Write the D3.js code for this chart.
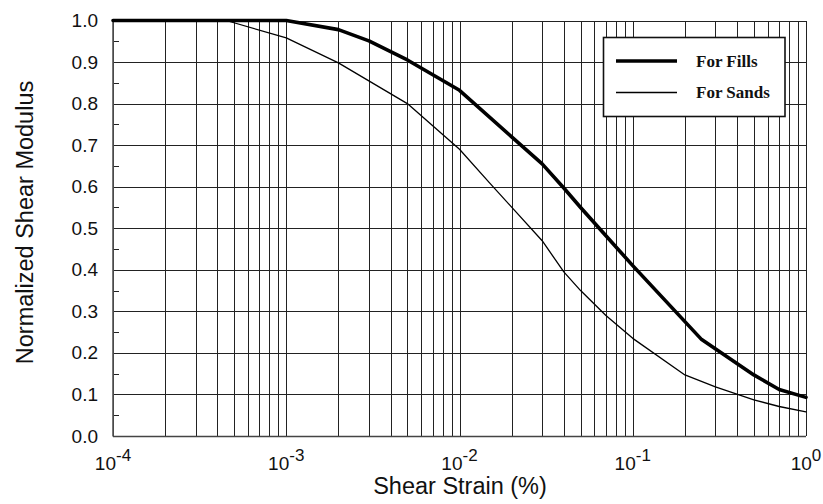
<!DOCTYPE html>
<html>
<head>
<meta charset="utf-8">
<script src="https://cdn.jsdelivr.net/npm/d3@7"></script>
<style>
  html, body { margin: 0; padding: 0; background: #fff; }
  svg { display: block; }
</style>
</head>
<body>
<svg id="chart" width="823" height="504"></svg>
<script>
// Modulus reduction curves: normalized shear modulus vs. shear strain (%)
const strainFills = [1e-4, 1e-3, 2e-3, 3e-3, 5e-3, 1e-2, 2e-2, 3e-2, 4e-2, 5e-2, 7e-2, 1e-1, 2.5e-1, 5e-1, 7e-1, 1];
const modulusFills = [1.0, 1.0, 0.978, 0.951, 0.905, 0.832, 0.72, 0.655, 0.597, 0.55, 0.482, 0.41, 0.232, 0.147, 0.112, 0.093];

const strainSands = [1e-4, 4.5e-4, 1e-3, 2e-3, 5e-3, 1e-2, 1.5e-2, 3e-2, 4e-2, 5e-2, 7e-2, 1e-1, 2e-1, 3e-1, 5e-1, 7e-1, 1];
const modulusSands = [1.0, 1.0, 0.958, 0.898, 0.80, 0.69, 0.608, 0.47, 0.395, 0.35, 0.29, 0.235, 0.147, 0.118, 0.087, 0.071, 0.058];

const yTickValues = [0, 0.1, 0.2, 0.3, 0.4, 0.5, 0.6, 0.7, 0.8, 0.9, 1.0];
const yMinorValues = [0.05, 0.15, 0.25, 0.35, 0.45, 0.55, 0.65, 0.75, 0.85, 0.95];
const xDecades = [-4, -3, -2, -1, 0];

const seriesNames = ["For Fills", "For Sands"];
const seriesWidths = [3.6, 1.3];

const svg = d3.select("#chart");
const plotLeft = 113, plotRight = 806, plotTop = 20.5, plotBottom = 436;

const x = d3.scaleLog().domain([1e-4, 1]).range([plotLeft, plotRight]);
const y = d3.scaleLinear().domain([0, 1]).range([plotBottom, plotTop]);

// vertical grid lines at every 1..9 multiple within each decade
const g = svg.append("g").attr("shape-rendering", "crispEdges");
g.selectAll("line.vx")
  .data(x.ticks())
  .join("line")
  .attr("class", "vx")
  .attr("x1", d => Math.round(x(d)) + 0.5)
  .attr("x2", d => Math.round(x(d)) + 0.5)
  .attr("y1", y(0)).attr("y2", y(1))
  .attr("stroke", "#222").attr("stroke-width", 1);

// horizontal grid lines
g.selectAll("line.hy")
  .data(yTickValues)
  .join("line")
  .attr("class", "hy")
  .attr("x1", plotLeft).attr("x2", plotRight)
  .attr("y1", d => Math.round(y(d)) + 0.5)
  .attr("y2", d => Math.round(y(d)) + 0.5)
  .attr("stroke", "#222").attr("stroke-width", 1);

// minor ticks on the left axis
g.selectAll("line.minor")
  .data(yMinorValues)
  .join("line")
  .attr("class", "minor")
  .attr("x1", plotLeft).attr("x2", plotLeft + 6)
  .attr("y1", d => Math.round(y(d)) + 0.5)
  .attr("y2", d => Math.round(y(d)) + 0.5)
  .attr("stroke", "#222").attr("stroke-width", 1);

// left and bottom axis lines
svg.append("line")
  .attr("x1", plotLeft).attr("x2", plotLeft).attr("y1", y(1)).attr("y2", y(0) + 0.5)
  .attr("stroke", "#555").attr("stroke-width", 1.6);
svg.append("line")
  .attr("x1", plotLeft).attr("x2", plotRight).attr("y1", y(0) + 0.5).attr("y2", y(0) + 0.5)
  .attr("stroke", "#444").attr("stroke-width", 1.4);

// y tick labels
svg.append("g").selectAll("text")
  .data(yTickValues)
  .join("text")
  .attr("x", 98)
  .attr("y", d => y(d) + 6.5)
  .attr("text-anchor", "end")
  .attr("font-family", "Liberation Sans, Arial, sans-serif")
  .attr("font-size", 19)
  .attr("fill", "#111")
  .text(d3.format(".1f"));

// x tick labels as powers of ten
const xl = svg.append("g").selectAll("text")
  .data(xDecades)
  .join("text")
  .attr("y", 469.5)
  .attr("text-anchor", "middle")
  .attr("font-family", "Liberation Sans, Arial, sans-serif")
  .attr("font-size", 19)
  .attr("fill", "#111")
  .attr("x", d => x(Math.pow(10, d)));
xl.append("tspan").text("10");
xl.append("tspan").attr("dy", -9).attr("font-size", 17).text(d => d === 0 ? "0" : "-" + Math.abs(d));

// axis titles
svg.append("text")
  .attr("x", 460).attr("y", 493.5)
  .attr("text-anchor", "middle")
  .attr("font-family", "Liberation Sans, Arial, sans-serif")
  .attr("font-size", 23.5)
  .attr("fill", "#111")
  .text("Shear Strain (%)");

svg.append("text")
  .attr("transform", "translate(33,222.5) rotate(-90)")
  .attr("text-anchor", "middle")
  .attr("font-family", "Liberation Sans, Arial, sans-serif")
  .attr("font-size", 23.5)
  .attr("fill", "#111")
  .text("Normalized Shear Modulus");

// curves
const line = d3.line()
  .x(d => x(d[0]))
  .y(d => y(d[1]));

const series = [
  d3.zip(strainFills, modulusFills),
  d3.zip(strainSands, modulusSands)
];

svg.append("g").selectAll("path")
  .data(series)
  .join("path")
  .attr("d", line)
  .attr("fill", "none")
  .attr("stroke", "#000")
  .attr("stroke-width", (d, i) => seriesWidths[i])
  .attr("stroke-linejoin", "round")
  .attr("stroke-linecap", "round");

// legend
const lg = svg.append("g");
lg.append("rect")
  .attr("x", 603.5).attr("y", 37.5)
  .attr("width", 181.5).attr("height", 79)
  .attr("fill", "#fff")
  .attr("stroke", "#111").attr("stroke-width", 1.6);

const legendRows = lg.selectAll("g.row")
  .data(seriesNames)
  .join("g")
  .attr("class", "row")
  .attr("transform", (d, i) => `translate(0,${i === 0 ? 61 : 92.5})`);

legendRows.append("line")
  .attr("x1", 616).attr("x2", 677)
  .attr("y1", 0).attr("y2", 0)
  .attr("stroke", "#000")
  .attr("stroke-width", (d, i) => seriesWidths[i]);

legendRows.append("text")
  .attr("x", 696).attr("y", 5.5)
  .attr("font-family", "Liberation Serif, Times New Roman, serif")
  .attr("font-weight", "bold")
  .attr("font-size", 17)
  .attr("fill", "#111")
  .text(d => d);
</script>
</body>
</html>
